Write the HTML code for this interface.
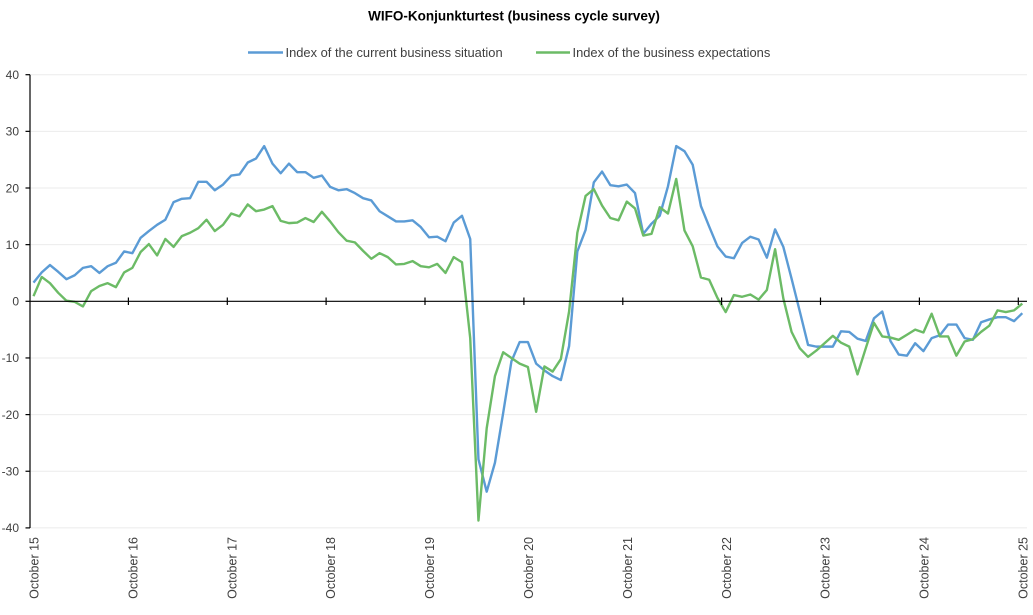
<!DOCTYPE html>
<html>
<head>
<meta charset="utf-8">
<style>
  html,body{margin:0;padding:0;background:#fff;}
  svg{display:block;}
  text{font-family:"Liberation Sans",Arial,sans-serif;fill:#404040;}
</style>
</head>
<body>
<svg width="1033" height="615" viewBox="0 0 1033 615" xmlns="http://www.w3.org/2000/svg">
  <rect x="0" y="0" width="1033" height="615" fill="#ffffff"/>
  <!-- Title -->
  <text x="514" y="20.5" text-anchor="middle" font-size="13.5" font-weight="bold" style="fill:#000">WIFO-Konjunkturtest (business cycle survey)</text>
  <!-- Legend -->
  <line x1="248" y1="52.5" x2="283" y2="52.5" stroke="#5b9bd5" stroke-width="2.5"/>
  <text x="285.5" y="57" font-size="12.9">Index of the current business situation</text>
  <line x1="536" y1="52.5" x2="570" y2="52.5" stroke="#6cbb66" stroke-width="2.5"/>
  <text x="572.5" y="57" font-size="12.9">Index of the business expectations</text>

  <!-- Gridlines -->
  <g stroke="#ebebeb" stroke-width="1">
    <line x1="30" y1="74.7" x2="1027" y2="74.7"/>
    <line x1="30" y1="131.35" x2="1027" y2="131.35"/>
    <line x1="30" y1="188" x2="1027" y2="188"/>
    <line x1="30" y1="244.65" x2="1027" y2="244.65"/>
    <line x1="30" y1="357.95" x2="1027" y2="357.95"/>
    <line x1="30" y1="414.6" x2="1027" y2="414.6"/>
    <line x1="30" y1="471.25" x2="1027" y2="471.25"/>
    <line x1="30" y1="527.9" x2="1027" y2="527.9"/>
  </g>

  <!-- Y axis labels -->
  <g font-size="12" text-anchor="end">
    <text x="19" y="79">40</text>
    <text x="19" y="135.6">30</text>
    <text x="19" y="192.3">20</text>
    <text x="19" y="248.9">10</text>
    <text x="19" y="305.6">0</text>
    <text x="19" y="362.2">-10</text>
    <text x="19" y="418.9">-20</text>
    <text x="19" y="475.5">-30</text>
    <text x="19" y="532.2">-40</text>
  </g>

  <!-- Series -->
  <g transform="translate(33.5,301.3) scale(8.24,-5.665)">
    <polyline fill="none" stroke="#5b9bd5" stroke-width="2.4" stroke-linejoin="round" vector-effect="non-scaling-stroke"
      points="0,3.3 1,5.1 2,6.4 3,5.2 4,3.9 5,4.6 6,5.9 7,6.2 8,5.0 9,6.2 10,6.8 11,8.8 12,8.5 13,11.2 14,12.4 15,13.5 16,14.4 17,17.5 18,18.1 19,18.2 20,21.1 21,21.1 22,19.6 23,20.6 24,22.2 25,22.4 26,24.5 27,25.2 28,27.4 29,24.3 30,22.6 31,24.3 32,22.8 33,22.8 34,21.8 35,22.2 36,20.2 37,19.6 38,19.8 39,19.1 40,18.2 41,17.8 42,15.9 43,15.0 44,14.1 45,14.1 46,14.3 47,13.1 48,11.3 49,11.4 50,10.6 51,13.9 52,15.1 53,11.0 54,-27.9 55,-33.6 56,-28.5 57,-19.7 58,-10.6 59,-7.2 60,-7.2 61,-11.0 62,-12.2 63,-13.2 64,-13.9 65,-7.9 66,8.8 67,12.6 68,21.0 69,22.9 70,20.5 71,20.3 72,20.6 73,19.1 74,11.9 75,13.7 76,15.1 77,20.3 78,27.4 79,26.5 80,24.1 81,16.8 82,13.2 83,9.7 84,7.9 85,7.6 86,10.3 87,11.4 88,10.9 89,7.7 90,12.7 91,9.6 92,4.0 93,-1.8 94,-7.7 95,-8.0 96,-8.0 97,-8.0 98,-5.3 99,-5.4 100,-6.6 101,-7.0 102,-3.0 103,-1.8 104,-7.0 105,-9.4 106,-9.6 107,-7.4 108,-8.8 109,-6.5 110,-6.0 111,-4.1 112,-4.1 113,-6.5 114,-6.8 115,-3.7 116,-3.2 117,-2.8 118,-2.8 119,-3.5 120,-2.1"/>
    <polyline fill="none" stroke="#6cbb66" stroke-width="2.4" stroke-linejoin="round" vector-effect="non-scaling-stroke"
      points="0,0.9 1,4.3 2,3.2 3,1.5 4,0.1 5,-0.1 6,-0.9 7,1.8 8,2.7 9,3.2 10,2.5 11,5.1 12,5.9 13,8.7 14,10.1 15,8.1 16,11.0 17,9.6 18,11.5 19,12.1 20,12.9 21,14.4 22,12.4 23,13.5 24,15.5 25,15.0 26,17.1 27,15.9 28,16.2 29,16.8 30,14.2 31,13.8 32,13.9 33,14.7 34,14.0 35,15.8 36,14.1 37,12.2 38,10.7 39,10.4 40,8.9 41,7.5 42,8.5 43,7.8 44,6.5 45,6.6 46,7.1 47,6.2 48,6.0 49,6.6 50,5.0 51,7.8 52,6.9 53,-6.5 54,-38.7 55,-22.4 56,-13.2 57,-9.0 58,-10.0 59,-11.0 60,-11.6 61,-19.5 62,-11.5 63,-12.4 64,-10.2 65,-1.8 66,12.1 67,18.6 68,19.8 69,16.9 70,14.7 71,14.3 72,17.6 73,16.4 74,11.6 75,11.9 76,16.6 77,15.5 78,21.6 79,12.5 80,9.7 81,4.2 82,3.8 83,0.6 84,-1.9 85,1.1 86,0.8 87,1.2 88,0.3 89,2.0 90,9.2 91,0.5 92,-5.4 93,-8.3 94,-9.8 95,-8.7 96,-7.4 97,-6.1 98,-7.3 99,-8.0 100,-12.9 101,-8.3 102,-3.8 103,-6.2 104,-6.4 105,-6.8 106,-5.9 107,-5.0 108,-5.5 109,-2.2 110,-6.2 111,-6.2 112,-9.6 113,-7.1 114,-6.7 115,-5.4 116,-4.3 117,-1.6 118,-1.9 119,-1.6 120,-0.4"/>
  </g>

  <!-- Axes -->
  <g stroke="#000" stroke-width="1.2">
    <line x1="30" y1="74.7" x2="30" y2="528"/>
    <line x1="30" y1="301.3" x2="1027" y2="301.3"/>
    <!-- y ticks -->
    <line x1="25.5" y1="74.7" x2="30" y2="74.7"/>
    <line x1="25.5" y1="131.35" x2="30" y2="131.35"/>
    <line x1="25.5" y1="188" x2="30" y2="188"/>
    <line x1="25.5" y1="244.65" x2="30" y2="244.65"/>
    <line x1="25.5" y1="301.3" x2="30" y2="301.3"/>
    <line x1="25.5" y1="357.95" x2="30" y2="357.95"/>
    <line x1="25.5" y1="414.6" x2="30" y2="414.6"/>
    <line x1="25.5" y1="471.25" x2="30" y2="471.25"/>
    <line x1="25.5" y1="527.9" x2="30" y2="527.9"/>
    <!-- x ticks -->
    <line x1="128.4" y1="297.5" x2="128.4" y2="305"/>
    <line x1="227.3" y1="297.5" x2="227.3" y2="305"/>
    <line x1="326.1" y1="297.5" x2="326.1" y2="305"/>
    <line x1="425" y1="297.5" x2="425" y2="305"/>
    <line x1="523.9" y1="297.5" x2="523.9" y2="305"/>
    <line x1="622.8" y1="297.5" x2="622.8" y2="305"/>
    <line x1="721.6" y1="297.5" x2="721.6" y2="305"/>
    <line x1="820.5" y1="297.5" x2="820.5" y2="305"/>
    <line x1="919.4" y1="297.5" x2="919.4" y2="305"/>
    <line x1="1018.3" y1="297.5" x2="1018.3" y2="305"/>
  </g>

  <!-- X labels -->
  <g font-size="12.5" text-anchor="end">
    <text transform="translate(38.6,537) rotate(-90)">October 15</text>
    <text transform="translate(137.5,537) rotate(-90)">October 16</text>
    <text transform="translate(236.4,537) rotate(-90)">October 17</text>
    <text transform="translate(335.2,537) rotate(-90)">October 18</text>
    <text transform="translate(434.1,537) rotate(-90)">October 19</text>
    <text transform="translate(533,537) rotate(-90)">October 20</text>
    <text transform="translate(631.9,537) rotate(-90)">October 21</text>
    <text transform="translate(730.8,537) rotate(-90)">October 22</text>
    <text transform="translate(829.6,537) rotate(-90)">October 23</text>
    <text transform="translate(928.5,537) rotate(-90)">October 24</text>
    <text transform="translate(1027.4,537) rotate(-90)">October 25</text>
  </g>
</svg>
</body>
</html>
